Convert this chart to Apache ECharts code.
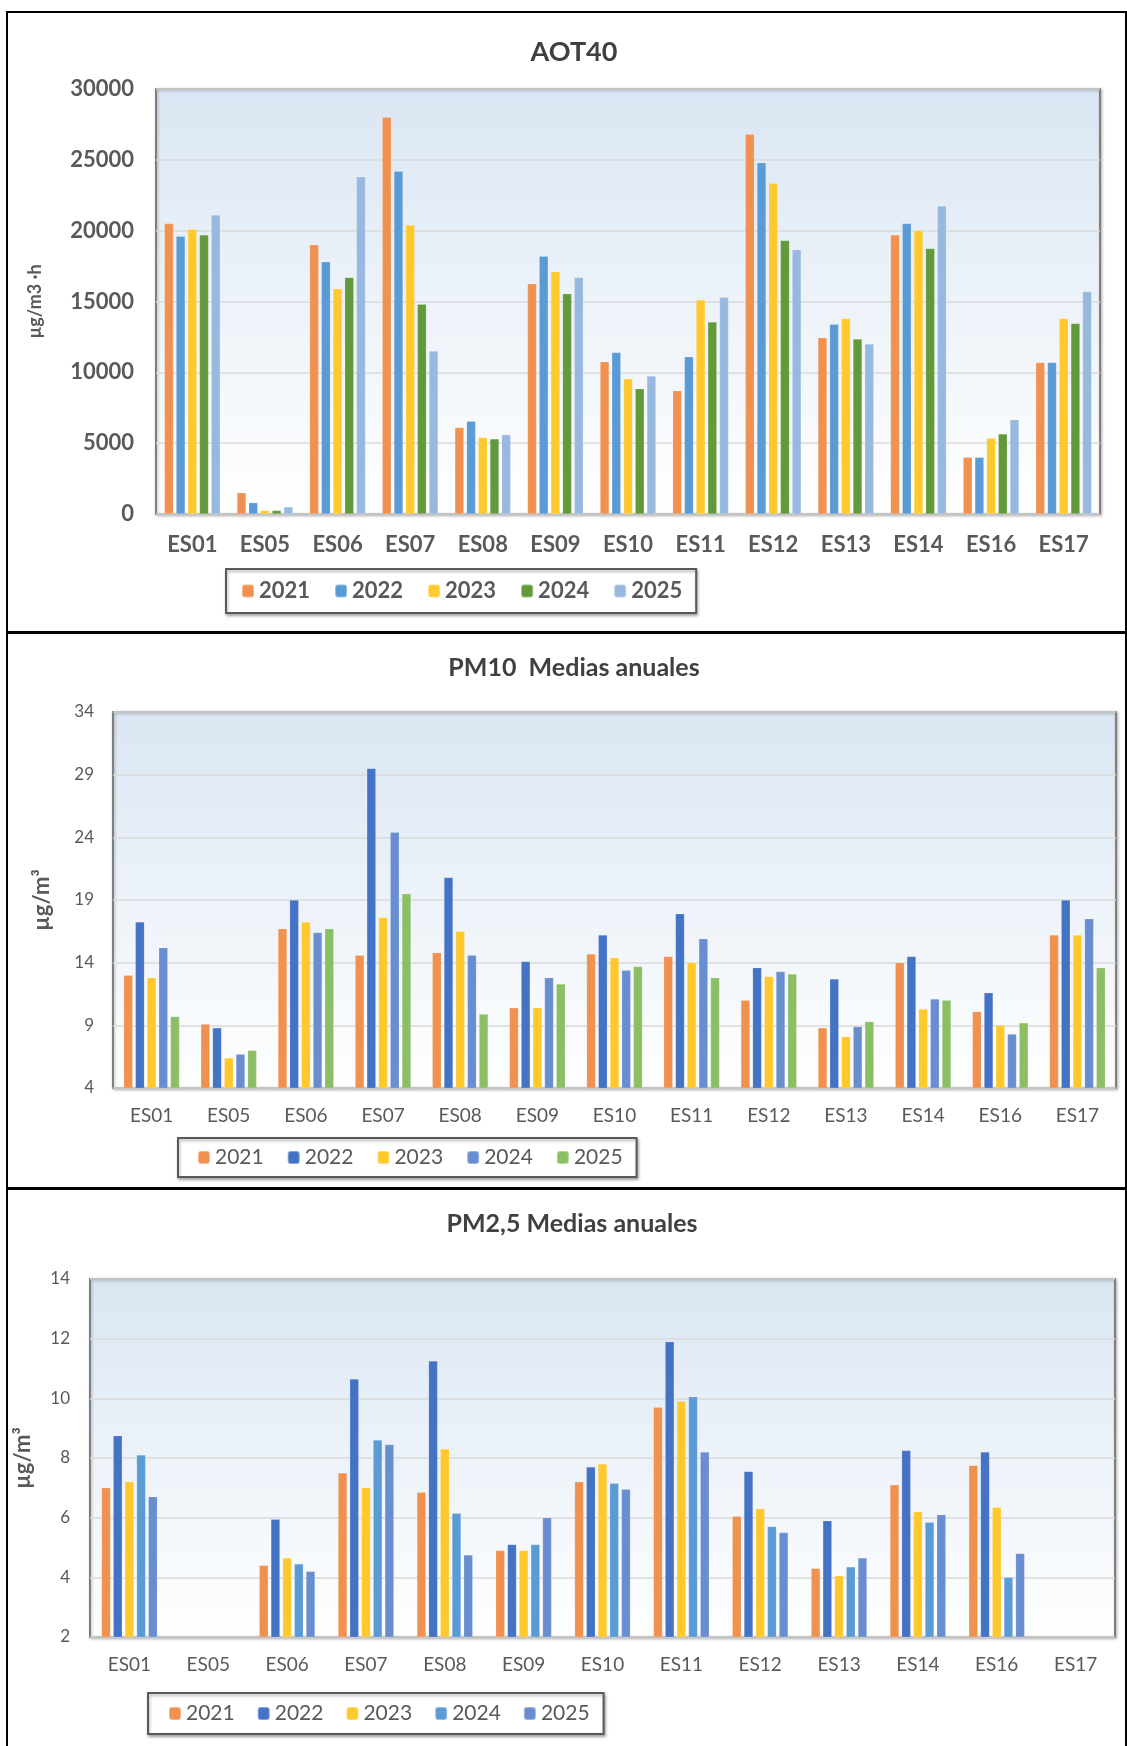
<!DOCTYPE html>
<html>
<head>
<meta charset="utf-8">
<script src="https://cdn.jsdelivr.net/npm/echarts@6/dist/echarts.min.js"></script>
<style>
html,body{margin:0;padding:0;background:#fff;}
#c{width:1127px;height:1746px;}
</style>
</head>
<body>
<div id="c"></div>
<script>
// ---------- DATA ----------
const categories = ['ES01','ES05','ES06','ES07','ES08','ES09','ES10','ES11','ES12','ES13','ES14','ES16','ES17'];
const years = ['2021','2022','2023','2024','2025'];

// AOT40 (µg/m3·h)
const aot40_2021 = [20500, 1500, 19000, 28000, 6100, 16250, 10750, 8700, 26800, 12450, 19700, 4000, 10700];
const aot40_2022 = [19600, 800, 17800, 24200, 6550, 18200, 11400, 11100, 24800, 13400, 20500, 4000, 10700];
const aot40_2023 = [20100, 250, 15900, 20400, 5400, 17100, 9550, 15100, 23350, 13800, 20000, 5350, 13800];
const aot40_2024 = [19700, 250, 16700, 14800, 5300, 15550, 8850, 13550, 19300, 12350, 18750, 5650, 13450];
const aot40_2025 = [21100, 500, 23800, 11500, 5600, 16700, 9750, 15300, 18650, 12000, 21750, 6650, 15700];

// PM10 annual means (µg/m³)
const pm10_2021 = [13.0, 9.1, 16.7, 14.6, 14.8, 10.4, 14.7, 14.5, 11.0, 8.8, 14.0, 10.1, 16.2];
const pm10_2022 = [17.25, 8.8, 19.0, 29.5, 20.8, 14.1, 16.2, 17.9, 13.6, 12.7, 14.5, 11.6, 19.0];
const pm10_2023 = [12.8, 6.4, 17.25, 17.6, 16.5, 10.4, 14.4, 14.0, 12.9, 8.1, 10.3, 9.0, 16.2];
const pm10_2024 = [15.2, 6.7, 16.4, 24.4, 14.6, 12.8, 13.4, 15.9, 13.3, 8.9, 11.1, 8.3, 17.5];
const pm10_2025 = [9.7, 7.0, 16.7, 19.5, 9.9, 12.3, 13.7, 12.8, 13.1, 9.3, 11.0, 9.2, 13.6];

// PM2,5 annual means (µg/m³)
const pm25_2021 = [7.0, null, 4.4, 7.5, 6.85, 4.9, 7.2, 9.7, 6.05, 4.3, 7.1, 7.75, null];
const pm25_2022 = [8.75, null, 5.95, 10.65, 11.25, 5.1, 7.7, 11.9, 7.55, 5.9, 8.25, 8.2, null];
const pm25_2023 = [7.2, null, 4.65, 7.0, 8.3, 4.9, 7.8, 9.9, 6.3, 4.05, 6.2, 6.35, null];
const pm25_2024 = [8.1, null, 4.45, 8.6, 6.15, 5.1, 7.15, 10.05, 5.7, 4.35, 5.85, 4.0, null];
const pm25_2025 = [6.7, null, 4.2, 8.45, 4.75, 6.0, 6.95, 8.2, 5.5, 4.65, 6.1, 4.8, null];

// Axis ticks
const aot40Axis = {min: 0, max: 30000, interval: 5000};
const pm10Axis = {min: 4, max: 34, interval: 5};
const pm25Axis = {min: 2, max: 14, interval: 2};

// ---------- STYLE ----------
const FONT = 'Lato, "Open Sans", sans-serif';
const TXT = '#595959';
const colAOT = ['#F0914F', '#5B9BD5', '#FFC82C', '#62993B', '#97B9E0'];
const colPM10 = ['#F0914F', '#4472C4', '#FFC82C', '#698ED0', '#8BBF65'];
const colPM25 = ['#F0914F', '#4472C4', '#FFC82C', '#5B9BD5', '#698ED0'];

const plotBg = {type:'linear', x:0, y:0, x2:0, y2:1,
  colorStops:[{offset:0, color:'#DAE6F3'}, {offset:1, color:'#FFFFFF'}]};

function grid(l, t, w, h){
  return {left:l, top:t, width:w, height:h, show:true, backgroundColor:plotBg,
          borderColor:'#7F7F7F', borderWidth:2,
          shadowColor:'rgba(0,0,0,0.25)', shadowBlur:3, shadowOffsetX:1, shadowOffsetY:1};
}
function xAxis(idx, size, weight, margin){
  return {type:'category', gridIndex:idx, data:categories,
          axisLine:{show:false}, axisTick:{show:false},
          axisLabel:{color:TXT, fontFamily:FONT, fontSize:size, fontWeight:weight, margin:margin, interval:0}};
}
function yAxis(idx, ax, size, weight, margin, name, nameSize, nameGap){
  return {type:'value', gridIndex:idx, min:ax.min, max:ax.max, interval:ax.interval,
          axisLine:{show:false}, axisTick:{show:false},
          splitLine:{lineStyle:{color:'#DADADA', width:1.5}},
          axisLabel:{color:TXT, fontFamily:FONT, fontSize:size, fontWeight:weight, margin:margin,
                     formatter:(v)=>String(v)},
          name:name, nameLocation:'middle', nameRotate:90, nameGap:nameGap,
          nameTextStyle:{color:TXT, fontFamily:FONT, fontSize:nameSize, fontWeight:'bold'}};
}
function bars(dataList, colors, axisIdx){
  return dataList.map((d, i) => ({
    type:'bar', name:years[i], xAxisIndex:axisIdx, yAxisIndex:axisIdx,
    data:d, barWidth:9, barGap:'30%',
    itemStyle:{color:colors[i], borderColor:'rgba(255,255,255,0.35)', borderWidth:0.5},
    emphasis:{disabled:true}
  }));
}
function legendData(colors){
  return years.map((y,i)=>({name:y, itemStyle:{color:colors[i]}}));
}
function legend(colors, left, top, size, weight, gap, pad){
  return {show:true, left:left, top:top, orient:'horizontal',
          data:legendData(colors),
          itemWidth:12, itemHeight:13, itemGap:gap, padding:pad,
          borderColor:'#595959', borderWidth:2, backgroundColor:'#fff',
          shadowColor:'rgba(0,0,0,0.3)', shadowBlur:3, shadowOffsetX:1, shadowOffsetY:2,
          textStyle:{color:TXT, fontFamily:FONT, fontSize:size, fontWeight:weight},
          selectedMode:false};
}

const series = []
  .concat(bars([aot40_2021, aot40_2022, aot40_2023, aot40_2024, aot40_2025], colAOT, 0))
  .concat(bars([pm10_2021, pm10_2022, pm10_2023, pm10_2024, pm10_2025], colPM10, 1))
  .concat(bars([pm25_2021, pm25_2022, pm25_2023, pm25_2024, pm25_2025], colPM25, 2));

const chart = echarts.init(document.getElementById('c'), null, {renderer:'canvas'});
const option = {
  animation:false,
  backgroundColor:'#ffffff',
  grid:[ grid(156, 89, 944, 425), grid(113, 712, 1003, 376), grid(90, 1279, 1025, 358) ],
  xAxis:[ xAxis(0, 22, 'bold', 20), xAxis(1, 19, 'normal', 18), xAxis(2, 19, 'normal', 18) ],
  yAxis:[
    yAxis(0, aot40Axis, 22, 'bold', 22, 'µg/m3 ·h', 18, 112),
    yAxis(1, pm10Axis, 17, 'normal', 19, 'µg/m³', 22, 60),
    yAxis(2, pm25Axis, 17, 'normal', 20, 'µg/m³', 22, 56)
  ],
  legend:[
    legend(colAOT, 226, 569, 22, 'bold', 24, [11, 14, 11, 15]),
    legend(colPM10, 178, 1138, 21, 'normal', 23, [9, 14, 9, 19]),
    legend(colPM25, 148, 1693, 21, 'normal', 22, [10, 14, 10, 20])
  ],
  graphic:[
    {type:'rect', shape:{x:7, y:12, width:1119, height:620}, style:{fill:'none', stroke:'#000', lineWidth:2}, silent:true},
    {type:'rect', shape:{x:7, y:633, width:1119, height:555}, style:{fill:'none', stroke:'#000', lineWidth:2}, silent:true},
    {type:'rect', shape:{x:7, y:1189, width:1119, height:570}, style:{fill:'none', stroke:'#000', lineWidth:2}, silent:true},
    {type:'text', x:574, y:52, style:{text:'AOT40', font:'bold 27px '+FONT, fill:'#404040', textAlign:'center', textVerticalAlign:'middle'}, silent:true},
    {type:'text', x:574, y:668, style:{text:'PM10  Medias anuales', font:'bold 25px '+FONT, fill:'#404040', textAlign:'center', textVerticalAlign:'middle'}, silent:true},
    {type:'text', x:572, y:1224, style:{text:'PM2,5 Medias anuales', font:'bold 25px '+FONT, fill:'#404040', textAlign:'center', textVerticalAlign:'middle'}, silent:true}
  ],
  series:series
};
chart.setOption(option);
</script>
</body>
</html>
